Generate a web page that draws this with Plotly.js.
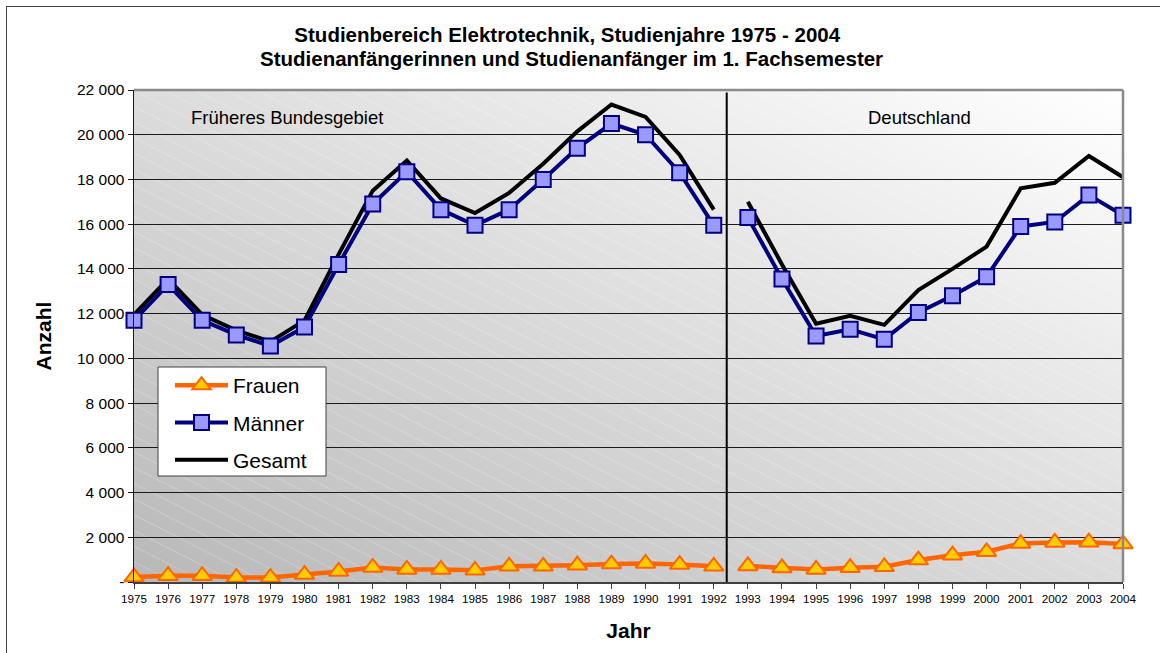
<!DOCTYPE html>
<html><head><meta charset="utf-8">
<script src="https://cdn.plot.ly/plotly-3.0.1.min.js"></script>
<style>
html,body{margin:0;padding:0;background:#fff;overflow:hidden}
#wrap{position:relative;width:1160px;height:653px}
#chart{width:1160px;height:653px}
#frame{position:absolute;left:6px;top:6px;width:1200px;height:700px;border-left:1px solid #404040;border-top:1px solid #404040;pointer-events:none}
</style></head><body>
<div id="wrap"><div id="chart"></div><div id="frame"></div></div>
<script>
// ---- data ----
const years = [1975,1976,1977,1978,1979,1980,1981,1982,1983,1984,1985,1986,1987,1988,1989,1990,1991,1992,
               1993,1994,1995,1996,1997,1998,1999,2000,2001,2002,2003,2004];
const frauen = [220,280,280,200,200,330,470,650,560,560,520,700,700,750,800,830,780,700,
                720,630,560,640,680,980,1200,1350,1720,1770,1780,1700];
const maenner = [11700,13300,11700,11050,10550,11400,14200,16900,18350,16650,15950,16650,18000,19400,20500,20000,18300,15950,
                 16300,13550,11000,11300,10850,12050,12800,13650,15900,16100,17300,16400];
const gesamt = [11950,13550,11950,11250,10750,11700,14650,17500,18850,17150,16500,17400,18700,20150,21350,20800,19100,16650,
                17000,14200,11550,11900,11500,13050,14000,15000,17600,17850,19050,18100];
const lastWestYear = 1992;
const yTickVals = [0,2000,4000,6000,8000,10000,12000,14000,16000,18000,20000,22000];
const yTickText = ['-','2 000','4 000','6 000','8 000','10 000','12 000','14 000','16 000','18 000','20 000','22 000'];
const regionLabels = ['Früheres Bundesgebiet','Deutschland'];
const titleLines = ['Studienbereich Elektrotechnik, Studienjahre 1975 - 2004','Studienanfängerinnen und Studienanfänger im 1. Fachsemester'];

const FONT = 'Liberation Sans, Arial, sans-serif';

function split(vals){
  const w = {x:[],y:[]}, e = {x:[],y:[]};
  years.forEach((yr,i)=>{ const t = yr<=lastWestYear ? w : e; t.x.push(yr); t.y.push(vals[i]); });
  return [w,e];
}
function series(name, vals, style, rank){
  return split(vals).map((part,k)=>Object.assign({
    type:'scatter', x:part.x, y:part.y, name:name, legendgroup:name, legendrank:rank,
    showlegend:k===0, cliponaxis:false, hoverinfo:'x+y+name'
  }, style));
}
const traces = [].concat(
  series('Gesamt', gesamt, {mode:'lines', line:{color:'#000000', width:4}}, 3),
  series('Männer', maenner, {mode:'lines+markers', line:{color:'#000080', width:4},
     marker:{symbol:'square', size:15, color:'#9999ff', line:{color:'#000080', width:2}}}, 2),
  series('Frauen', frauen, {mode:'lines+markers', line:{color:'#ff6600', width:4.5},
     marker:{symbol:'triangle-up', size:17, color:'#ffcc00', line:{color:'#ff6600', width:2}}}, 1)
);

const svg = '<svg xmlns="http://www.w3.org/2000/svg" width="989" height="492" viewBox="0 0 989 492" preserveAspectRatio="none">'+
 '<defs><linearGradient id="g" x1="0" y1="1" x2="1" y2="0">'+
 '<stop offset="0" stop-color="#b8b8b8"/><stop offset="0.5" stop-color="#dcdcdc"/><stop offset="1" stop-color="#ffffff"/></linearGradient>'+
 '<pattern id="p" width="14" height="14" patternUnits="userSpaceOnUse" patternTransform="rotate(27)">'+
 '<line x1="0" y1="0" x2="14" y2="0" stroke="#ffffff" stroke-width="1" stroke-opacity="0.4"/></pattern></defs>'+
 '<rect width="989" height="492" fill="url(#g)"/><rect width="989" height="492" fill="url(#p)"/></svg>';
const bgSrc = 'data:image/svg+xml;charset=utf-8,' + encodeURIComponent(svg);

const layout = {
  width:1160, height:653,
  margin:{l:134, r:37, t:90, b:71, pad:0},
  paper_bgcolor:'#ffffff', plot_bgcolor:'rgba(0,0,0,0)',
  font:{family:FONT, color:'#000000'},
  title:{text:titleLines[0], font:{family:FONT, size:20.5, weight:'bold', color:'#000'},
         xref:'container', x:0.489, xanchor:'center', yref:'container', y:1-35/653, yanchor:'middle'},
  xaxis:{range:[1975,2004], tickvals:years, ticktext:years.map(String), tickfont:{size:11.7},
         ticks:'outside', ticklen:5, tickcolor:'#404040', showline:true, linecolor:'#404040', linewidth:2,
         showgrid:false, zeroline:false, fixedrange:true,
         title:{text:'Jahr', font:{size:21, weight:'bold'}, standoff:19}},
  yaxis:{range:[0,22000], tickvals:yTickVals, ticktext:yTickText, tickfont:{size:15.5},
         ticks:'outside', ticklen:5, tickcolor:'#1a1a1a', showline:true, linecolor:'#1a1a1a', linewidth:1.5,
         showgrid:true, gridcolor:'#1a1a1a', gridwidth:1, zeroline:false, fixedrange:true,
         title:{text:'Anzahl', font:{size:21, weight:'bold'}, standoff:19}},
  legend:{x:(170-134)/989, y:(582-365)/492, xanchor:'left', yanchor:'top', bgcolor:'rgba(0,0,0,0)', borderwidth:0,
          font:{size:21, family:FONT}, itemwidth:53, tracegroupgap:7, traceorder:'grouped'},
  images:[{source:bgSrc, xref:'paper', yref:'paper', x:0, y:1, sizex:1, sizey:1, sizing:'stretch', layer:'below', xanchor:'left', yanchor:'top'}],
  shapes:[
    {type:'line', xref:'paper', yref:'paper', x0:0, x1:1, y0:1, y1:1, line:{color:'#8a8a8a', width:2.5}, layer:'above'},
    {type:'line', xref:'paper', yref:'paper', x0:1, x1:1, y0:0, y1:1, line:{color:'#8a8a8a', width:2.5}, layer:'above'},
    {type:'line', xref:'x', yref:'paper', x0:lastWestYear+0.38, x1:lastWestYear+0.38, y0:0, y1:0.995, line:{color:'#000000', width:2}, layer:'above'},
    {type:'rect', xref:'paper', yref:'paper', x0:(158-134)/989, x1:(326-134)/989, y0:(582-476)/492, y1:(582-367)/492,
     fillcolor:'#ffffff', line:{color:'#404040', width:1}, layer:'above'}
  ],
  annotations:[
    {text:titleLines[1], xref:'paper', yref:'paper', x:(571-134)/989, y:(582-58)/492, showarrow:false,
     font:{size:20.5, weight:'bold'}, xanchor:'center', yanchor:'middle'},
    {text:regionLabels[0], xref:'paper', yref:'paper', x:(287-134)/989, y:(582-118)/492, showarrow:false, font:{size:18.5}, xanchor:'center', yanchor:'middle'},
    {text:regionLabels[1], xref:'paper', yref:'paper', x:(919-134)/989, y:(582-118)/492, showarrow:false, font:{size:18.5}, xanchor:'center', yanchor:'middle'}
  ],
  showlegend:true
};
Plotly.newPlot('chart', traces, layout, {displayModeBar:false, staticPlot:true});
</script>
</body></html>
